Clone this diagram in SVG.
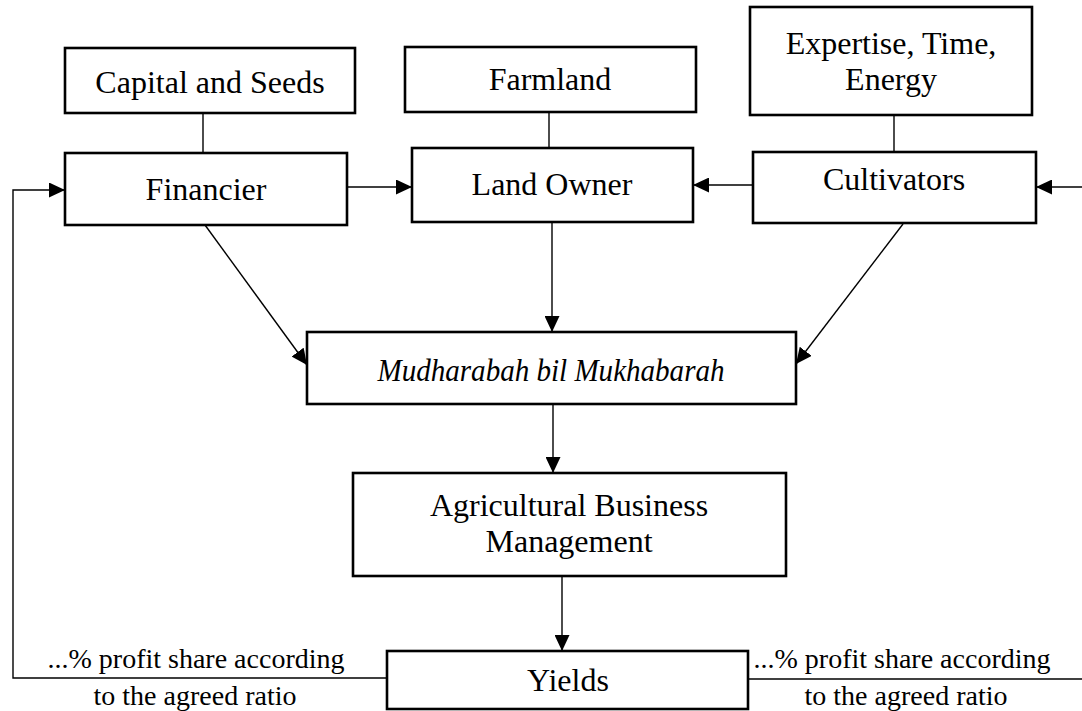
<svg xmlns="http://www.w3.org/2000/svg" width="1082" height="711" viewBox="0 0 1082 711">
<style>
.box{fill:#fff;stroke:#000;stroke-width:2.6}
.t{font-family:"Liberation Serif","Times New Roman",serif;font-size:32px;fill:#000;text-anchor:middle}
.it{font-style:italic}
.s{font-family:"Liberation Serif","Times New Roman",serif;font-size:28px;fill:#000;text-anchor:middle}
.c{fill:none;stroke:#000;stroke-width:1.4}
.a{marker-end:url(#ah)}
</style>
<defs>
<marker id="ah" markerUnits="userSpaceOnUse" markerWidth="16" markerHeight="15" refX="16" refY="7.5" orient="auto">
<path d="M0,0 L16,7.5 L0,15 z" fill="#000"/>
</marker>
</defs>
<rect width="1082" height="711" fill="#fff"/>
<g id="connectors">
<line class="c" x1="203" y1="113" x2="203" y2="153"/>
<line class="c" x1="549" y1="112" x2="549" y2="148"/>
<line class="c" x1="894" y1="115" x2="894" y2="152"/>
<line class="c a" x1="347" y1="187" x2="412" y2="187"/>
<line class="c a" x1="753" y1="185" x2="693" y2="185"/>
<line class="c a" x1="1082" y1="187" x2="1036" y2="187"/>
<polyline class="c a" points="387,678 13,678 13,190 65,190"/>
<line class="c" x1="748" y1="679" x2="1082" y2="679"/>
<line class="c a" x1="205" y1="225" x2="307" y2="365"/>
<line class="c a" x1="903" y1="224" x2="796" y2="364"/>
<line class="c a" x1="552" y1="222" x2="552" y2="332"/>
<line class="c a" x1="553" y1="404" x2="553" y2="473"/>
<line class="c a" x1="562" y1="576" x2="562" y2="651"/>
</g>
<g id="capital">
<rect class="box" x="65" y="48" width="290" height="65"/>
<text class="t" x="210" y="93">Capital and Seeds</text>
</g>
<g id="farmland">
<rect class="box" x="405" y="47" width="291" height="65"/>
<text class="t" x="550" y="90">Farmland</text>
</g>
<g id="expertise">
<rect class="box" x="750" y="7" width="282" height="108"/>
<text class="t" x="891" y="54">Expertise, Time,</text>
<text class="t" x="891" y="90">Energy</text>
</g>
<g id="financier">
<rect class="box" x="65" y="153" width="282" height="72"/>
<text class="t" x="206" y="200">Financier</text>
</g>
<g id="landowner">
<rect class="box" x="412" y="148" width="281" height="74"/>
<text class="t" x="552" y="195">Land Owner</text>
</g>
<g id="cultivators">
<rect class="box" x="753" y="152" width="283" height="71"/>
<text class="t" x="894" y="190">Cultivators</text>
</g>
<g id="mudharabah">
<rect class="box" x="307" y="332" width="489" height="72"/>
<text class="t it" x="551" y="381" textLength="347" lengthAdjust="spacingAndGlyphs">Mudharabah bil Mukhabarah</text>
</g>
<g id="management">
<rect class="box" x="353" y="473" width="433" height="103"/>
<text class="t" x="569" y="516">Agricultural Business</text>
<text class="t" x="569" y="552">Management</text>
</g>
<g id="yields">
<rect class="box" x="387" y="651" width="361" height="58"/>
<text class="t" x="568" y="691">Yields</text>
</g>
<g id="labels">
<text class="s" x="196" y="668">...% profit share according</text>
<text class="s" x="195" y="705">to the agreed ratio</text>
<text class="s" x="902" y="668">...% profit share according</text>
<text class="s" x="906" y="705">to the agreed ratio</text>
</g>
</svg>
